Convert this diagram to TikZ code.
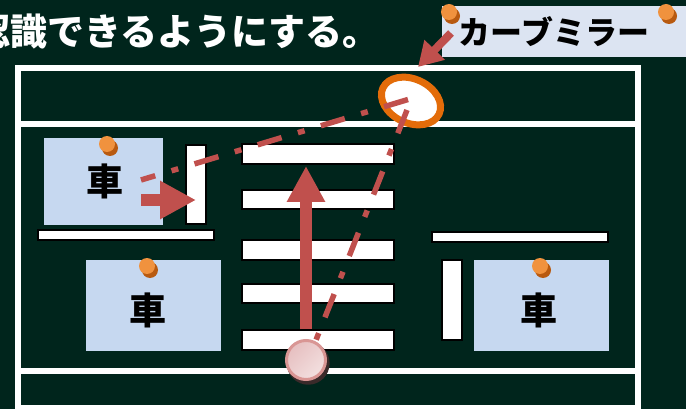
\documentclass[tikz,border=0pt]{standalone}
\usepackage{fontspec}
\newfontfamily\jpfont{Noto Sans CJK JP}
\newfontfamily\jpheavy{Noto Sans CJK JP Black}
\usetikzlibrary{arrows.meta, shadows, positioning, shapes.geometric}
\definecolor{boardgreen}{HTML}{00251C}
\definecolor{carblue}{HTML}{C6D8F0}
\definecolor{tagblue}{HTML}{DCE4F2}
\definecolor{arrowred}{HTML}{C0504D}
\definecolor{mirrororange}{HTML}{E36C09}
\definecolor{pinorange}{HTML}{F0923E}
\definecolor{pinshade}{HTML}{B85A10}
\definecolor{startrim}{HTML}{D99694}
\definecolor{startdark}{HTML}{E6BFC0}
\definecolor{startlight}{HTML}{F3E0E0}
\definecolor{startshade}{HTML}{3A2A2A}
\tikzstyle{bar} = [rectangle, draw=black, line width=2pt, fill=white, inner sep=0pt]
\tikzstyle{car} = [rectangle, fill=carblue, inner sep=0pt]
\tikzstyle{carlabel} = [inner sep=0pt, font=\jpheavy\fontsize{37}{37}\selectfont]
\tikzstyle{pin} = [circle, inner sep=0pt, minimum size=16pt, fill=pinorange, drop shadow={shadow xshift=3pt, shadow yshift=-4pt, fill=pinshade, opacity=1}]
\tikzstyle{wall} = [draw=white, line width=6pt]
\tikzstyle{arrow} = [draw=arrowred, line width=12pt, -{Triangle[length=36pt, width=36pt]}]
\tikzstyle{sight} = [draw=arrowred, line width=5.5pt, dash pattern=on 25pt off 17pt on 7pt off 17pt]
\begin{document}
\begin{tikzpicture}[x=1pt, y=-1pt]
		\useasboundingbox (0,0) rectangle (686,409);
		\fill [boardgreen] (0,0) rectangle (686,409);
		% title and tag
		\node (Title) [anchor=east, inner sep=0pt, text=white, font=\jpheavy\fontsize{37}{37}\selectfont] at (380,32) {認識できるようにする。};
		\node (Tag) [rectangle, fill=tagblue, minimum width=244pt, minimum height=51pt, inner sep=0pt] at (564,31.5) {};
		\node (TagText) [inner sep=0pt, font=\jpfont\bfseries\fontsize{32}{32}\selectfont] at (554,32) {カーブミラー};
		% road frame
		\draw [wall] (18,409) |- (638,68) -- (638,409);
		\coordinate (WallTopL) at (18,124);
		\coordinate (WallTopR) at (638,124);
		\coordinate (WallLowL) at (18,370.5);
		\coordinate (WallLowR) at (638,370.5);
		\coordinate (WallBotL) at (15,407);
		\coordinate (WallBotR) at (641,407);
		\draw [wall] (WallTopL) -- (WallTopR);
		\draw [wall] (WallLowL) -- (WallLowR);
		\draw [draw=white, line width=4pt] (WallBotL) -- (WallBotR);
		% cars
		\node (CarA) [car, minimum width=119pt, minimum height=87pt] at (103.5,181.5) {};
		\node (CarB) [car, minimum width=135pt, minimum height=91pt] at (153.5,305.5) {};
		\node (CarC) [car, minimum width=135pt, minimum height=91pt] at (541.5,305.5) {};
		\node (CarALabel) [carlabel] at (105,181) {車};
		\node (CarBLabel) [carlabel] at (148,310) {車};
		\node (CarCLabel) [carlabel] at (539,310) {車};
		% walls beside the cars
		\node (BarA) [bar, minimum width=20pt, minimum height=79pt] at (196,184.5) {};
		\node (BarB) [bar, minimum width=176pt, minimum height=10pt] at (126,235) {};
		\node (BarC) [bar, minimum width=176pt, minimum height=10pt] at (520,237) {};
		\node (BarD) [bar, minimum width=20pt, minimum height=80pt] at (452,300) {};
		% crossing
		\node (ZebraA) [bar, minimum width=152pt, minimum height=20pt] at (318,154) {};
		\node (ZebraB) [bar, minimum width=152pt, minimum height=19pt] at (318,199.5) {};
		\node (ZebraC) [bar, minimum width=152pt, minimum height=20pt] at (318,250) {};
		\node (ZebraD) [bar, minimum width=152pt, minimum height=19pt] at (318,293.5) {};
		\node (ZebraE) [bar, minimum width=152pt, minimum height=20pt] at (318,340) {};
		% pins
		\node (PinA) [pin] at (107,144) {};
		\node (PinB) [pin] at (147,266) {};
		\node (PinC) [pin] at (540,266) {};
		\node (PinD) [pin] at (449,12) {};
		\node (PinE) [pin] at (666,12) {};
		% arrows
		\coordinate (WalkTip) at (306,166);
		\coordinate (DriveTail) at (141,200);
		\coordinate (DriveTip) at (196,200);
		\coordinate (TagTail) at (451,33);
		\coordinate (MirrorTip) at (418,67);
		\draw [arrow] (ZebraE.north -| WalkTip) -- (WalkTip);
		\draw [arrow] (DriveTail) -- (DriveTip);
		\draw [draw=arrowred, line width=8pt, -{Triangle[length=24pt, width=27pt]}] (TagTail) -- (MirrorTip);
		% mirror
		\node (Mirror) [ellipse, draw=mirrororange, line width=7pt, fill=white, minimum width=62pt, minimum height=44pt, inner sep=0pt, rotate=-25] at (411,101) {};
		% lines of sight
		\coordinate (SightTop) at (408,99.5);
		\coordinate (SightCar) at (141,180);
		\coordinate (SightSide) at (407,110);
		\coordinate (SightFoot) at (316,340);
		\draw [sight] (SightTop) -- (SightCar);
		\draw [sight] (SightSide) -- (SightFoot);
		\node (Start) [circle, draw=startrim, line width=3pt, minimum size=39pt, inner sep=0pt, left color=startdark, right color=startlight, shading angle=45, drop shadow={shadow scale=1.1, shadow xshift=2pt, shadow yshift=-3pt, fill=startshade, opacity=1}] at (306,360) {};
		\end{tikzpicture}
\end{document}
